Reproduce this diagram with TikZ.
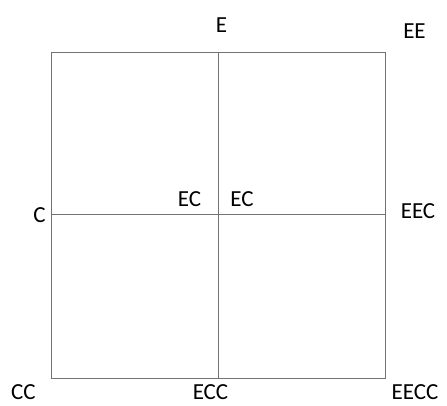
\documentclass[tikz,border=0pt]{standalone}
\usepackage{fontspec}
\setmainfont{Carlito}
\begin{document}
\begin{tikzpicture}[x=1pt,y=-1pt,
  lbl/.style={font=\fontsize{23}{23}\selectfont, inner sep=0pt, text=black},
  grid line/.style={draw=black!55, line width=1pt}]
\useasboundingbox[fill=white] (0,0) rectangle (447,405);
\coordinate (tl) at (51,52);
\coordinate (br) at (385,378);
\coordinate (tm) at (218,52);
\coordinate (bm) at (218,378);
\coordinate (ml) at (51,214);
\coordinate (mr) at (385,214);
\draw[grid line] (tl) rectangle (br);
\draw[grid line] (tm) -- (bm);
\draw[grid line] (ml) -- (mr);
\node[lbl] (e) at (221.5,25) {E};
\node[lbl] (ee) at (414.5,31) {EE};
\node[lbl] (c) at (39.5,215) {C};
\node[lbl] (ec1) at (189.5,199.5) {EC};
\node[lbl] (ec2) at (242,199.5) {EC};
\node[lbl] (eec) at (418,211) {EEC};
\node[lbl] (cc) at (23.5,392) {CC};
\node[lbl] (ecc) at (210.5,392) {ECC};
\node[lbl] (eecc) at (415,392) {EECC};
\end{tikzpicture}
\end{document}
